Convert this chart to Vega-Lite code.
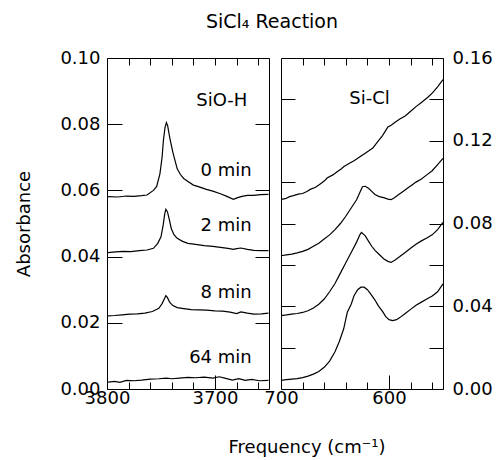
{
  "$schema": "https://vega.github.io/schema/vega-lite/v6.json",
  "background": "white",
  "padding": {"left": 15, "top": 12, "right": 0, "bottom": 0},
  "config": {
    "view": {"stroke": "black", "strokeWidth": 1},
    "font": "DejaVu Sans",
    "axis": {
      "domain": false, "grid": false, "tickColor": "black", "tickWidth": 1,
      "labelColor": "black", "titleColor": "black",
      "labelFont": "DejaVu Sans", "labelFontSize": 18,
      "titleFont": "DejaVu Sans", "titleFontSize": 18, "titleFontWeight": "normal",
      "labelFlush": false, "labelOverlap": false
    },
    "text": {"font": "DejaVu Sans", "fontSize": 18, "color": "black"}
  },
  "title": {"text": "SiCl₄ Reaction", "font": "DejaVu Sans", "fontSize": 19, "fontWeight": "normal", "color": "black", "offset": 17, "anchor": "middle", "dx": 18},
  "spacing": 12,
  "bounds": "flush",
  "datasets": {
    "oh": [
      {"f":3799,"a":0.0581,"t":"0"},{"f":3790,"a":0.0580,"t":"0"},{"f":3782,"a":0.0583,"t":"0"},{"f":3775,"a":0.0582,"t":"0"},{"f":3768,"a":0.0584,"t":"0"},{"f":3763,"a":0.0586,"t":"0"},{"f":3757,"a":0.0600,"t":"0"},{"f":3754,"a":0.0612,"t":"0"},{"f":3751,"a":0.0650,"t":"0"},{"f":3749,"a":0.0700,"t":"0"},{"f":3747.8,"a":0.0750,"t":"0"},{"f":3746.3,"a":0.0790,"t":"0"},{"f":3745,"a":0.0805,"t":"0"},{"f":3743.8,"a":0.0795,"t":"0"},{"f":3742.5,"a":0.0770,"t":"0"},{"f":3741,"a":0.0745,"t":"0"},{"f":3739,"a":0.0715,"t":"0"},{"f":3737,"a":0.0690,"t":"0"},{"f":3735,"a":0.0665,"t":"0"},{"f":3732,"a":0.0648,"t":"0"},{"f":3729,"a":0.0636,"t":"0"},{"f":3725,"a":0.0627,"t":"0"},{"f":3720,"a":0.0616,"t":"0"},{"f":3714,"a":0.0610,"t":"0"},{"f":3708,"a":0.0603,"t":"0"},{"f":3702,"a":0.0598,"t":"0"},{"f":3695,"a":0.0590,"t":"0"},{"f":3689,"a":0.0582,"t":"0"},{"f":3683,"a":0.0573,"t":"0"},{"f":3679,"a":0.0578,"t":"0"},{"f":3675,"a":0.0582,"t":"0"},{"f":3670,"a":0.0585,"t":"0"},{"f":3664,"a":0.0585,"t":"0"},{"f":3658,"a":0.0587,"t":"0"},{"f":3650.5,"a":0.0588,"t":"0"},
      {"f":3799,"a":0.0412,"t":"2"},{"f":3792,"a":0.0414,"t":"2"},{"f":3785,"a":0.0416,"t":"2"},{"f":3778,"a":0.0415,"t":"2"},{"f":3770,"a":0.0418,"t":"2"},{"f":3763,"a":0.0420,"t":"2"},{"f":3757,"a":0.0425,"t":"2"},{"f":3753,"a":0.0440,"t":"2"},{"f":3750,"a":0.0460,"t":"2"},{"f":3748,"a":0.0495,"t":"2"},{"f":3746.5,"a":0.0530,"t":"2"},{"f":3745.5,"a":0.0543,"t":"2"},{"f":3744,"a":0.0535,"t":"2"},{"f":3742.5,"a":0.0515,"t":"2"},{"f":3740.5,"a":0.0485,"t":"2"},{"f":3738,"a":0.0466,"t":"2"},{"f":3735,"a":0.0455,"t":"2"},{"f":3730,"a":0.0446,"t":"2"},{"f":3725,"a":0.0440,"t":"2"},{"f":3718,"a":0.0437,"t":"2"},{"f":3710,"a":0.0433,"t":"2"},{"f":3702,"a":0.0431,"t":"2"},{"f":3695,"a":0.0428,"t":"2"},{"f":3688,"a":0.0425,"t":"2"},{"f":3683,"a":0.0422,"t":"2"},{"f":3680,"a":0.0424,"t":"2"},{"f":3676,"a":0.0426,"t":"2"},{"f":3670,"a":0.0422,"t":"2"},{"f":3664,"a":0.0419,"t":"2"},{"f":3657,"a":0.0418,"t":"2"},{"f":3650.5,"a":0.0418,"t":"2"},
      {"f":3799,"a":0.0221,"t":"8"},{"f":3793,"a":0.0222,"t":"8"},{"f":3786,"a":0.0224,"t":"8"},{"f":3779,"a":0.0226,"t":"8"},{"f":3772,"a":0.0227,"t":"8"},{"f":3765,"a":0.0229,"t":"8"},{"f":3758,"a":0.0234,"t":"8"},{"f":3752,"a":0.0244,"t":"8"},{"f":3749,"a":0.0258,"t":"8"},{"f":3746.5,"a":0.0275,"t":"8"},{"f":3745.5,"a":0.0282,"t":"8"},{"f":3744,"a":0.0276,"t":"8"},{"f":3742,"a":0.0262,"t":"8"},{"f":3739,"a":0.0252,"t":"8"},{"f":3735,"a":0.0246,"t":"8"},{"f":3729,"a":0.0243,"t":"8"},{"f":3722,"a":0.0240,"t":"8"},{"f":3715,"a":0.0239,"t":"8"},{"f":3708,"a":0.0238,"t":"8"},{"f":3700,"a":0.0236,"t":"8"},{"f":3693,"a":0.0235,"t":"8"},{"f":3686,"a":0.0232,"t":"8"},{"f":3680,"a":0.0228,"t":"8"},{"f":3676,"a":0.0233,"t":"8"},{"f":3670,"a":0.0229,"t":"8"},{"f":3664,"a":0.0226,"t":"8"},{"f":3657,"a":0.0227,"t":"8"},{"f":3650.5,"a":0.0229,"t":"8"},
      {"f":3799,"a":0.0021,"t":"64"},{"f":3793,"a":0.0023,"t":"64"},{"f":3788,"a":0.0020,"t":"64"},{"f":3782,"a":0.0026,"t":"64"},{"f":3775,"a":0.0025,"t":"64"},{"f":3768,"a":0.0027,"t":"64"},{"f":3760,"a":0.0030,"t":"64"},{"f":3752,"a":0.0031,"t":"64"},{"f":3745,"a":0.0033,"t":"64"},{"f":3740,"a":0.0031,"t":"64"},{"f":3733,"a":0.0033,"t":"64"},{"f":3725,"a":0.0035,"t":"64"},{"f":3718,"a":0.0034,"t":"64"},{"f":3710,"a":0.0036,"t":"64"},{"f":3702,"a":0.0033,"t":"64"},{"f":3696,"a":0.0037,"t":"64"},{"f":3690,"a":0.0032,"t":"64"},{"f":3684,"a":0.0027,"t":"64"},{"f":3678,"a":0.0031,"t":"64"},{"f":3672,"a":0.0026,"t":"64"},{"f":3666,"a":0.0029,"t":"64"},{"f":3659,"a":0.0025,"t":"64"},{"f":3650.5,"a":0.0026,"t":"64"}
    ],
    "cl": [
      {"f":700,"a":0.0917,"t":"0"},{"f":696,"a":0.0920,"t":"0"},{"f":692,"a":0.0930,"t":"0"},{"f":688.5,"a":0.0935,"t":"0"},{"f":684,"a":0.0942,"t":"0"},{"f":680,"a":0.0945,"t":"0"},{"f":676,"a":0.0955,"t":"0"},{"f":672.9,"a":0.0965,"t":"0"},{"f":668,"a":0.0975,"t":"0"},{"f":664,"a":0.0990,"t":"0"},{"f":660,"a":0.1005,"t":"0"},{"f":657.3,"a":0.1020,"t":"0"},{"f":652,"a":0.1035,"t":"0"},{"f":648,"a":0.1050,"t":"0"},{"f":644,"a":0.1065,"t":"0"},{"f":641.7,"a":0.1075,"t":"0"},{"f":637,"a":0.1090,"t":"0"},{"f":632,"a":0.1105,"t":"0"},{"f":626.2,"a":0.1125,"t":"0"},{"f":622,"a":0.1140,"t":"0"},{"f":619,"a":0.1150,"t":"0"},{"f":615,"a":0.1165,"t":"0"},{"f":610.6,"a":0.1195,"t":"0"},{"f":606,"a":0.1225,"t":"0"},{"f":603,"a":0.1250,"t":"0"},{"f":601,"a":0.1267,"t":"0"},{"f":598,"a":0.1275,"t":"0"},{"f":595,"a":0.1287,"t":"0"},{"f":590,"a":0.1305,"t":"0"},{"f":585,"a":0.1320,"t":"0"},{"f":579.4,"a":0.1345,"t":"0"},{"f":575,"a":0.1365,"t":"0"},{"f":570,"a":0.1385,"t":"0"},{"f":564,"a":0.1410,"t":"0"},{"f":560,"a":0.1430,"t":"0"},{"f":555,"a":0.1460,"t":"0"},{"f":550,"a":0.1495,"t":"0"},
      {"f":700,"a":0.0644,"t":"2"},{"f":695,"a":0.0648,"t":"2"},{"f":690,"a":0.0652,"t":"2"},{"f":685,"a":0.0658,"t":"2"},{"f":680,"a":0.0665,"t":"2"},{"f":675,"a":0.0675,"t":"2"},{"f":670,"a":0.0690,"t":"2"},{"f":665,"a":0.0705,"t":"2"},{"f":660,"a":0.0725,"t":"2"},{"f":655,"a":0.0745,"t":"2"},{"f":650,"a":0.0770,"t":"2"},{"f":645,"a":0.0800,"t":"2"},{"f":640,"a":0.0835,"t":"2"},{"f":635,"a":0.0875,"t":"2"},{"f":630,"a":0.0915,"t":"2"},{"f":627,"a":0.0950,"t":"2"},{"f":624.6,"a":0.0978,"t":"2"},{"f":622,"a":0.0980,"t":"2"},{"f":619,"a":0.0970,"t":"2"},{"f":616,"a":0.0955,"t":"2"},{"f":613,"a":0.0940,"t":"2"},{"f":609,"a":0.0930,"t":"2"},{"f":605,"a":0.0925,"t":"2"},{"f":601,"a":0.0918,"t":"2"},{"f":598,"a":0.0915,"t":"2"},{"f":595,"a":0.0925,"t":"2"},{"f":591,"a":0.0940,"t":"2"},{"f":587,"a":0.0955,"t":"2"},{"f":583,"a":0.0970,"t":"2"},{"f":579,"a":0.0985,"t":"2"},{"f":575,"a":0.1000,"t":"2"},{"f":570,"a":0.1015,"t":"2"},{"f":565,"a":0.1035,"t":"2"},{"f":560,"a":0.1055,"t":"2"},{"f":555,"a":0.1085,"t":"2"},{"f":550,"a":0.1115,"t":"2"},
      {"f":700,"a":0.0355,"t":"8"},{"f":695,"a":0.0358,"t":"8"},{"f":690,"a":0.0362,"t":"8"},{"f":685,"a":0.0365,"t":"8"},{"f":680,"a":0.0370,"t":"8"},{"f":675,"a":0.0378,"t":"8"},{"f":670,"a":0.0392,"t":"8"},{"f":665,"a":0.0410,"t":"8"},{"f":660,"a":0.0435,"t":"8"},{"f":655,"a":0.0470,"t":"8"},{"f":650,"a":0.0510,"t":"8"},{"f":645,"a":0.0560,"t":"8"},{"f":640,"a":0.0610,"t":"8"},{"f":635,"a":0.0660,"t":"8"},{"f":630,"a":0.0710,"t":"8"},{"f":627,"a":0.0745,"t":"8"},{"f":625.5,"a":0.0757,"t":"8"},{"f":622,"a":0.0740,"t":"8"},{"f":619,"a":0.0715,"t":"8"},{"f":616,"a":0.0690,"t":"8"},{"f":613,"a":0.0670,"t":"8"},{"f":609,"a":0.0650,"t":"8"},{"f":605,"a":0.0630,"t":"8"},{"f":601,"a":0.0617,"t":"8"},{"f":598,"a":0.0612,"t":"8"},{"f":594,"a":0.0625,"t":"8"},{"f":590,"a":0.0640,"t":"8"},{"f":585,"a":0.0660,"t":"8"},{"f":580,"a":0.0680,"t":"8"},{"f":575,"a":0.0700,"t":"8"},{"f":570,"a":0.0716,"t":"8"},{"f":565,"a":0.0730,"t":"8"},{"f":560,"a":0.0745,"t":"8"},{"f":555,"a":0.0770,"t":"8"},{"f":550,"a":0.0805,"t":"8"},
      {"f":700,"a":0.0042,"t":"64"},{"f":695,"a":0.0045,"t":"64"},{"f":690,"a":0.0048,"t":"64"},{"f":685,"a":0.0050,"t":"64"},{"f":680,"a":0.0055,"t":"64"},{"f":675,"a":0.0062,"t":"64"},{"f":670,"a":0.0072,"t":"64"},{"f":665,"a":0.0085,"t":"64"},{"f":660,"a":0.0105,"t":"64"},{"f":655,"a":0.0135,"t":"64"},{"f":650,"a":0.0180,"t":"64"},{"f":646,"a":0.0230,"t":"64"},{"f":642,"a":0.0290,"t":"64"},{"f":638.6,"a":0.0371,"t":"64"},{"f":635,"a":0.0410,"t":"64"},{"f":632.4,"a":0.0451,"t":"64"},{"f":629,"a":0.0480,"t":"64"},{"f":626,"a":0.0492,"t":"64"},{"f":623,"a":0.0492,"t":"64"},{"f":620,"a":0.0480,"t":"64"},{"f":617,"a":0.0460,"t":"64"},{"f":613,"a":0.0430,"t":"64"},{"f":610,"a":0.0403,"t":"64"},{"f":606,"a":0.0375,"t":"64"},{"f":603,"a":0.0350,"t":"64"},{"f":600,"a":0.0335,"t":"64"},{"f":596.6,"a":0.0331,"t":"64"},{"f":593,"a":0.0335,"t":"64"},{"f":590,"a":0.0345,"t":"64"},{"f":585,"a":0.0365,"t":"64"},{"f":580,"a":0.0385,"t":"64"},{"f":575,"a":0.0405,"t":"64"},{"f":570,"a":0.0420,"t":"64"},{"f":565,"a":0.0435,"t":"64"},{"f":560,"a":0.0450,"t":"64"},{"f":555,"a":0.0470,"t":"64"},{"f":550,"a":0.0508,"t":"64"}
    ],
    "ohlab": [
      {"f":3666,"a":0.0659,"s":"0 min"},{"f":3666,"a":0.0491,"s":"2 min"},{"f":3666,"a":0.0289,"s":"8 min"},{"f":3666,"a":0.0095,"s":"64 min"},
      {"f":3670,"a":0.0870,"s":"SiO-H"}
    ],
    "cllab": [
      {"f":618,"a":0.1404,"s":"Si-Cl"}
    ]
  },
  "hconcat": [
    {
      "width": 162, "height": 331,
      "resolve": {"axis": {"x": "independent", "y": "independent"}},
      "layer": [
        {
          "data": {"name": "oh"},
          "transform": [{"filter": "datum.t === '0' || datum.t === '2'"}],
          "mark": {"type": "line", "color": "black", "strokeWidth": 1.2},
          "encoding": {
            "x": {"field": "f", "type": "quantitative", "scale": {"domain": [3650, 3800], "reverse": true, "nice": false, "zero": false},
                  "axis": {"orient": "bottom", "values": [3800, 3700], "format": "d", "tickSize": -14, "labelPadding": 14, "title": null}},
            "y": {"field": "a", "type": "quantitative", "scale": {"domain": [0, 0.1], "nice": false, "zero": false},
                  "axis": {"orient": "left", "values": [0, 0.02, 0.04, 0.06, 0.08, 0.1], "format": ".2f", "tickSize": -15, "labelPadding": 22, "title": "Absorbance", "titlePadding": 26}},
            "detail": {"field": "t"}
          }
        },
        {
          "data": {"name": "oh"},
          "transform": [{"filter": "datum.t === '8' || datum.t === '64'"}],
          "mark": {"type": "line", "color": "black", "strokeWidth": 1.2},
          "encoding": {
            "x": {"field": "f", "type": "quantitative", "scale": {"domain": [3650, 3800], "reverse": true, "nice": false, "zero": false},
                  "axis": {"orient": "bottom", "values": [3780, 3760, 3740, 3720, 3680, 3660], "labels": false, "tickSize": -7, "title": null}},
            "y": {"field": "a", "type": "quantitative", "scale": {"domain": [0, 0.1], "nice": false, "zero": false},
                  "axis": {"orient": "right", "values": [0.02, 0.04, 0.06, 0.08], "labels": false, "tickSize": -14, "title": null}},
            "detail": {"field": "t"}
          }
        },
        {
          "data": {"name": "ohlab"},
          "mark": {"type": "text", "align": "right", "baseline": "middle"},
          "encoding": {
            "x": {"field": "f", "type": "quantitative", "scale": {"domain": [3650, 3800], "reverse": true, "nice": false, "zero": false},
                  "axis": {"orient": "top", "values": [3780, 3760, 3740, 3720, 3700, 3680, 3660], "labels": false, "tickSize": -7, "title": null}},
            "y": {"field": "a", "type": "quantitative", "scale": {"domain": [0, 0.1], "nice": false, "zero": false}, "axis": null},
            "text": {"field": "s"}
          }
        }
      ]
    },
    {
      "width": 162, "height": 331,
      "resolve": {"axis": {"x": "independent", "y": "independent"}},
      "layer": [
        {
          "data": {"name": "cl"},
          "transform": [{"filter": "datum.t === '0' || datum.t === '2'"}],
          "mark": {"type": "line", "color": "black", "strokeWidth": 1.2},
          "encoding": {
            "x": {"field": "f", "type": "quantitative", "scale": {"domain": [550, 700], "reverse": true, "nice": false, "zero": false},
                  "axis": {"orient": "bottom", "values": [700, 600], "format": "d", "tickSize": -14, "labelPadding": 14, "title": "Frequency (cm⁻¹)", "titleX": 25.5, "titlePadding": 31}},
            "y": {"field": "a", "type": "quantitative", "scale": {"domain": [0, 0.16], "nice": false, "zero": false},
                  "axis": {"orient": "right", "values": [0, 0.02, 0.04, 0.06, 0.08, 0.1, 0.12, 0.14, 0.16], "format": ".2f", "labelExpr": "round(datum.value * 100) % 4 === 0 ? datum.label : ''", "tickSize": -14, "labelPadding": 23, "title": null}},
            "detail": {"field": "t"}
          }
        },
        {
          "data": {"name": "cl"},
          "transform": [{"filter": "datum.t === '8' || datum.t === '64'"}],
          "mark": {"type": "line", "color": "black", "strokeWidth": 1.2},
          "encoding": {
            "x": {"field": "f", "type": "quantitative", "scale": {"domain": [550, 700], "reverse": true, "nice": false, "zero": false},
                  "axis": {"orient": "bottom", "values": [680, 660, 640, 620, 580, 560], "labels": false, "tickSize": -7, "title": null}},
            "y": {"field": "a", "type": "quantitative", "scale": {"domain": [0, 0.16], "nice": false, "zero": false},
                  "axis": {"orient": "left", "values": [0.02, 0.04, 0.06, 0.08, 0.1, 0.12, 0.14], "labels": false, "tickSize": -14, "title": null}},
            "detail": {"field": "t"}
          }
        },
        {
          "data": {"name": "cllab"},
          "mark": {"type": "text", "align": "center", "baseline": "middle"},
          "encoding": {
            "x": {"field": "f", "type": "quantitative", "scale": {"domain": [550, 700], "reverse": true, "nice": false, "zero": false},
                  "axis": {"orient": "top", "values": [680, 660, 640, 620, 600, 580, 560], "labels": false, "tickSize": -7, "title": null}},
            "y": {"field": "a", "type": "quantitative", "scale": {"domain": [0, 0.16], "nice": false, "zero": false}, "axis": null},
            "text": {"field": "s"}
          }
        }
      ]
    }
  ]
}
